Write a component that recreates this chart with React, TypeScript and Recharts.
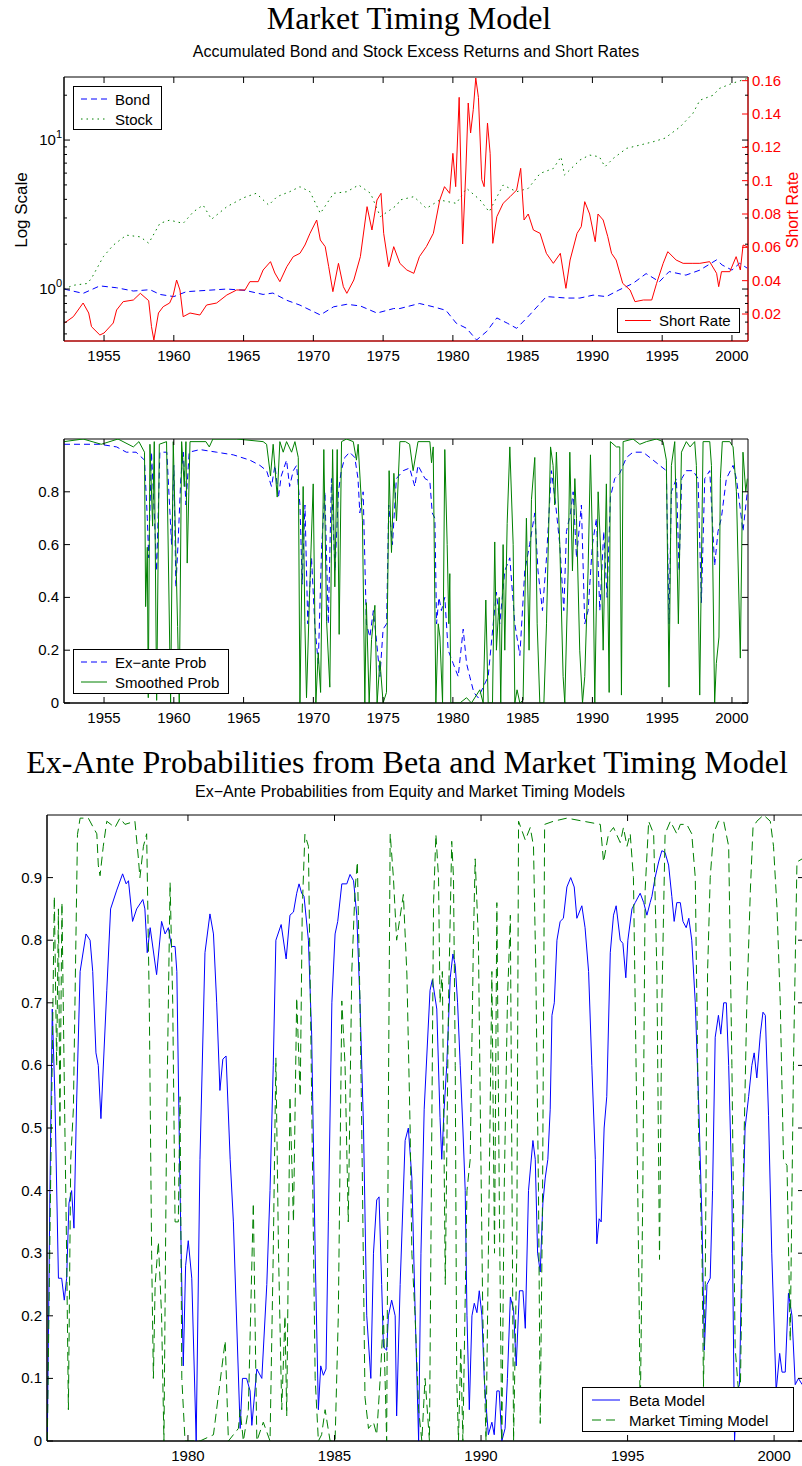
import React from 'react';
import { LineChart, Line, XAxis, YAxis, ReferenceArea, Legend } from 'recharts';

const SANS = '"Liberation Sans", Arial, Helvetica, sans-serif';
const SERIF = '"Liberation Serif", "Times New Roman", serif';
const BLUE = '#0000ff';
const RED = '#ff0000';
const GREEN = '#008000';

// ---------- ticks ----------
const yearTicksTop = [1955, 1960, 1965, 1970, 1975, 1980, 1985, 1990, 1995, 2000];
const logTicks = [0.5, 0.6, 0.7, 0.8, 0.9, 1, 2, 3, 4, 5, 6, 7, 8, 9, 10, 20];
const rateTicks = [0.02, 0.04, 0.06, 0.08, 0.1, 0.12, 0.14, 0.16];
const probTicks = [0, 0.2, 0.4, 0.6, 0.8];
const yearTicksBottom = [1980, 1985, 1990, 1995, 2000];
const probTicksFine = [0, 0.1, 0.2, 0.3, 0.4, 0.5, 0.6, 0.7, 0.8, 0.9];

// ---------- panel 1: accumulated returns (log) and short rate ----------
const bond: [number, number][] = [
  [1952.13, 1.0], [1953.5, 0.935], [1954.7, 1.05], [1955.9, 1.02], [1957.1, 0.97], [1958.3, 0.99],
  [1959.0, 0.92], [1960.0, 0.89], [1960.9, 0.96], [1962.35, 0.98], [1963.8, 1.0], [1965.1, 0.98],
  [1966.4, 0.92], [1967.1, 0.94], [1968.1, 0.84], [1969.04, 0.78], [1970.5, 0.67], [1971.45, 0.76],
  [1972.4, 0.79], [1973.37, 0.77], [1974.56, 0.69], [1975.76, 0.74], [1976.2, 0.74], [1977.6, 0.8],
  [1978.6, 0.76], [1979.5, 0.72], [1980.24, 0.59], [1980.98, 0.545], [1981.7, 0.455], [1982.43, 0.52],
  [1983.15, 0.64], [1983.9, 0.59], [1984.57, 0.545], [1985.5, 0.67], [1986.7, 0.89], [1988.15, 0.87],
  [1989.1, 0.87], [1990.05, 0.91], [1991.0, 0.89], [1991.9, 0.985], [1992.9, 1.09], [1993.85, 1.27],
  [1994.8, 1.12], [1995.5, 1.31], [1996.7, 1.24], [1997.7, 1.34], [1998.9, 1.57], [1999.3, 1.45],
  [2000.0, 1.34], [2000.55, 1.49], [2001.1, 1.38],
];

const stock: [number, number][] = [
  [1952.13, 1.0], [1952.8, 1.06], [1953.8, 1.09], [1954.1, 1.18], [1954.95, 1.65], [1955.66, 1.97],
  [1956.6, 2.3], [1957.6, 2.24], [1958.2, 2.03], [1959.0, 2.76], [1959.7, 2.9], [1960.67, 2.76],
  [1961.4, 3.3], [1962.1, 3.66], [1962.7, 2.94], [1963.8, 3.57], [1965.0, 4.1], [1965.9, 4.39],
  [1966.8, 3.66], [1967.4, 4.17], [1968.3, 4.5], [1969.04, 4.86], [1969.76, 4.5], [1970.5, 3.22],
  [1971.45, 4.39], [1972.4, 4.5], [1973.25, 4.99], [1974.1, 4.39], [1974.8, 3.06], [1976.0, 3.66],
  [1976.2, 3.96], [1977.2, 4.17], [1978.1, 3.48], [1979.06, 3.96], [1980.24, 3.76], [1980.98, 4.74],
  [1981.95, 3.96], [1982.6, 3.3], [1983.6, 4.99], [1984.57, 4.5], [1985.4, 4.74], [1986.25, 5.97],
  [1987.2, 6.45], [1987.75, 7.72], [1988.0, 5.82], [1989.1, 7.34], [1989.8, 7.93], [1990.5, 7.72],
  [1990.9, 6.62], [1991.5, 7.54], [1992.45, 8.8], [1993.4, 9.25], [1994.35, 9.74], [1995.2, 10.3],
  [1996.3, 12.3], [1997.2, 15.1], [1997.7, 18.5], [1998.65, 20.0], [1999.1, 22.2], [2000.0, 24.0],
  [2001.1, 25.9],
];

const shortRate: [number, number][] = [
  [1952.13, 0.0144], [1952.8, 0.0184], [1953.5, 0.0266], [1953.9, 0.0206], [1954.1, 0.0124],
  [1954.7, 0.0074], [1955.0, 0.0086], [1955.66, 0.0146], [1955.9, 0.0224], [1956.37, 0.0274],
  [1957.1, 0.0284], [1957.6, 0.0324], [1958.2, 0.028], [1958.4, 0.0124], [1958.57, 0.0044],
  [1958.9, 0.0206], [1959.24, 0.0244], [1959.7, 0.0266], [1959.96, 0.0314], [1960.2, 0.0404],
  [1960.44, 0.0344], [1960.67, 0.0184], [1961.16, 0.0206], [1961.87, 0.0194], [1962.35, 0.0254],
  [1963.07, 0.0266], [1963.8, 0.0314], [1964.5, 0.0344], [1965.1, 0.0344], [1965.45, 0.0394],
  [1966.05, 0.0394], [1966.4, 0.0464], [1966.93, 0.0514], [1967.24, 0.0446], [1967.6, 0.0394],
  [1968.1, 0.0484], [1968.56, 0.0544], [1969.04, 0.0564], [1969.4, 0.0614], [1969.76, 0.0684],
  [1970.24, 0.0764], [1970.5, 0.0644], [1970.85, 0.0604], [1971.1, 0.0484], [1971.4, 0.0334],
  [1971.8, 0.0504], [1972.15, 0.0364], [1972.4, 0.0324], [1972.9, 0.0404], [1973.37, 0.0544],
  [1973.85, 0.0844], [1974.2, 0.0704], [1974.56, 0.0884], [1974.85, 0.0924], [1975.04, 0.0684],
  [1975.4, 0.0484], [1975.76, 0.0604], [1976.2, 0.0504], [1976.7, 0.0464], [1977.2, 0.0444],
  [1977.6, 0.0544], [1978.1, 0.0604], [1978.6, 0.0684], [1979.06, 0.0884], [1979.4, 0.0964],
  [1979.77, 0.0924], [1980.0, 0.1164], [1980.2, 0.0964], [1980.45, 0.15], [1980.7, 0.062],
  [1980.93, 0.1064], [1981.1, 0.1466], [1981.27, 0.1286], [1981.46, 0.1426], [1981.64, 0.1616],
  [1981.83, 0.15], [1982.07, 0.1006], [1982.24, 0.0964], [1982.48, 0.1346], [1982.67, 0.1164],
  [1982.86, 0.0624], [1983.15, 0.0784], [1983.6, 0.0864], [1984.1, 0.0904], [1984.57, 0.0944],
  [1984.86, 0.1074], [1985.1, 0.0764], [1985.4, 0.08], [1985.77, 0.0704], [1986.25, 0.0684],
  [1986.7, 0.0564], [1987.2, 0.0504], [1987.7, 0.0564], [1988.1, 0.0354], [1988.4, 0.0524],
  [1988.9, 0.0684], [1989.2, 0.0724], [1989.45, 0.0874], [1989.8, 0.08], [1990.2, 0.0634],
  [1990.4, 0.08], [1990.77, 0.0764], [1991.1, 0.0664], [1991.37, 0.0564], [1991.7, 0.0524],
  [1992.17, 0.0384], [1992.7, 0.0344], [1993.05, 0.0274], [1993.65, 0.0284], [1994.25, 0.0284],
  [1994.6, 0.0384], [1995.07, 0.0504], [1995.4, 0.0574], [1996.0, 0.0524], [1996.5, 0.0504],
  [1997.2, 0.0504], [1997.7, 0.0504], [1998.4, 0.0514], [1998.9, 0.0444], [1999.05, 0.0364],
  [1999.25, 0.0454], [1999.85, 0.0454], [2000.3, 0.0544], [2000.6, 0.0464], [2000.8, 0.0614],
  [2001.1, 0.0604],
];

// ---------- panel 2: regime probabilities ----------
const exAnteProb: [number, number][] = [
  [1952.13, 0.98], [1954.7, 0.98], [1955.9, 0.97], [1956.6, 0.95], [1957.3, 0.95], [1957.9, 0.92],
  [1958.1, 0.7], [1958.2, 0.55], [1958.4, 0.95], [1958.6, 0.72], [1958.77, 0.5], [1959.0, 0.95],
  [1959.5, 0.95], [1959.84, 0.6], [1960.0, 0.9], [1960.15, 0.44], [1960.3, 0.6], [1960.5, 0.85],
  [1960.68, 0.95], [1960.87, 0.75], [1961.1, 0.95], [1961.87, 0.96], [1963.07, 0.95], [1964.26, 0.94],
  [1965.45, 0.92], [1966.17, 0.9], [1966.65, 0.88], [1967.0, 0.82], [1967.25, 0.9], [1967.5, 0.78],
  [1967.7, 0.86], [1968.08, 0.92], [1968.3, 0.82], [1968.56, 0.88], [1968.8, 0.9], [1969.04, 0.75],
  [1969.2, 0.45], [1969.4, 0.75], [1969.6, 0.3], [1969.87, 0.55], [1970.1, 0.3], [1970.35, 0.15],
  [1970.6, 0.6], [1970.83, 0.8], [1971.07, 0.3], [1971.3, 0.85], [1971.55, 0.5], [1971.8, 0.8],
  [1972.0, 0.88], [1972.26, 0.93], [1972.6, 0.95], [1972.97, 0.93], [1973.2, 0.85], [1973.33, 0.72],
  [1973.57, 0.8], [1973.8, 0.3], [1974.05, 0.25], [1974.3, 0.35], [1974.5, 0.25], [1974.77, 0.1],
  [1975.0, 0.28], [1975.25, 0.3], [1975.4, 0.75], [1975.67, 0.6], [1975.95, 0.85], [1976.44, 0.88],
  [1976.9, 0.89], [1977.27, 0.82], [1977.5, 0.9], [1978.0, 0.85], [1978.35, 0.84], [1978.52, 0.72],
  [1978.71, 0.7], [1978.83, 0.3], [1979.0, 0.4], [1979.18, 0.35], [1979.42, 0.4], [1979.66, 0.2],
  [1980.02, 0.15], [1980.38, 0.1], [1980.74, 0.28], [1980.98, 0.15], [1981.21, 0.1], [1981.5, 0.04],
  [1981.81, 0.02], [1982.17, 0.06], [1982.53, 0.1], [1982.89, 0.3], [1983.12, 0.42], [1983.36, 0.3],
  [1983.72, 0.5], [1984.08, 0.55], [1984.44, 0.3], [1984.8, 0.18], [1985.15, 0.5], [1985.5, 0.6],
  [1985.87, 0.72], [1986.1, 0.5], [1986.42, 0.35], [1986.71, 0.55], [1987.06, 0.88], [1987.37, 0.75],
  [1987.66, 0.6], [1987.95, 0.35], [1988.14, 0.65], [1988.43, 0.72], [1988.62, 0.8], [1988.86, 0.55],
  [1989.21, 0.75], [1989.45, 0.3], [1989.69, 0.35], [1990.0, 0.6], [1990.29, 0.7], [1990.53, 0.35],
  [1990.81, 0.65], [1991.05, 0.4], [1991.29, 0.78], [1991.6, 0.85], [1991.96, 0.87], [1992.44, 0.93],
  [1992.91, 0.95], [1993.63, 0.95], [1994.35, 0.92], [1994.82, 0.9], [1995.3, 0.88], [1995.49, 0.3],
  [1995.66, 0.8], [1996.02, 0.85], [1996.21, 0.5], [1996.4, 0.85], [1996.73, 0.88], [1997.21, 0.88],
  [1997.57, 0.85], [1997.81, 0.38], [1998.05, 0.85], [1998.41, 0.88], [1998.76, 0.52], [1999.0, 0.65],
  [1999.24, 0.7], [1999.6, 0.85], [2000.08, 0.9], [2000.32, 0.85], [2000.56, 0.75], [2000.79, 0.65],
  [2001.1, 0.8],
];

const smoothedProb: [number, number][] = [
  [1952.13, 0.99], [1953.5, 1.0], [1954.8, 0.98], [1956.0, 1.0], [1957.1, 0.97], [1957.5, 0.99],
  [1957.9, 0.95], [1957.98, 0.365], [1958.1, 0.59], [1958.17, 0.02], [1958.29, 0.98], [1958.48, 0.67],
  [1958.6, 0.99], [1958.77, 0.01], [1958.96, 0.98], [1959.48, 0.99], [1959.77, 0.0], [1959.96, 0.99],
  [1960.27, 0.29], [1960.39, 0.0], [1960.56, 0.99], [1960.75, 0.82], [1960.87, 0.99], [1960.96, 0.53],
  [1961.16, 0.99], [1962.3, 0.99], [1962.54, 0.97], [1962.8, 1.0], [1964.5, 1.0], [1966.4, 0.99],
  [1966.65, 0.98], [1966.93, 0.86], [1967.12, 0.98], [1967.41, 0.78], [1967.6, 0.99], [1967.84, 0.95],
  [1968.08, 0.99], [1968.44, 0.95], [1968.68, 0.99], [1968.92, 0.93], [1969.04, 0.0], [1969.27, 0.82],
  [1969.39, 0.31], [1969.51, 0.02], [1969.75, 0.45], [1969.99, 0.83], [1970.18, 0.0], [1970.35, 0.19],
  [1970.52, 0.04], [1970.75, 0.96], [1970.95, 0.31], [1971.18, 0.06], [1971.38, 0.96], [1971.54, 0.44],
  [1971.71, 0.96], [1971.85, 0.26], [1972.02, 0.99], [1972.38, 1.0], [1972.86, 0.99], [1973.09, 0.92],
  [1973.21, 0.98], [1973.52, 0.69], [1973.69, 0.0], [1973.8, 0.38], [1974.0, 0.0], [1974.17, 0.24],
  [1974.41, 0.37], [1974.57, 0.0], [1974.77, 0.16], [1975.0, 0.0], [1975.24, 0.04], [1975.43, 0.88],
  [1975.6, 0.57], [1975.77, 0.87], [1975.96, 0.69], [1976.2, 0.99], [1976.6, 0.99], [1976.9, 0.98],
  [1977.15, 0.88], [1977.5, 0.99], [1978.35, 0.99], [1978.47, 0.91], [1978.59, 0.97], [1978.78, 0.0],
  [1978.95, 0.3], [1979.07, 0.25], [1979.26, 0.0], [1979.42, 0.96], [1979.59, 0.6], [1979.71, 0.3],
  [1979.78, 0.49], [1979.85, 0.0], [1980.5, 0.0], [1980.98, 0.02], [1981.33, 0.0], [1981.93, 0.05],
  [1982.17, 0.0], [1982.36, 0.39], [1982.53, 0.0], [1982.84, 0.0], [1983.0, 0.61], [1983.12, 0.2],
  [1983.32, 0.4], [1983.43, 0.0], [1983.6, 0.6], [1983.72, 0.2], [1983.89, 0.68], [1984.08, 0.97],
  [1984.32, 0.6], [1984.44, 0.0], [1984.6, 0.05], [1984.8, 0.0], [1985.03, 0.01], [1985.27, 0.7],
  [1985.46, 0.2], [1985.63, 0.77], [1985.87, 0.93], [1986.04, 0.3], [1986.23, 0.0], [1986.52, 0.0],
  [1986.71, 0.3], [1987.0, 0.97], [1987.18, 0.9], [1987.3, 0.75], [1987.42, 0.95], [1987.66, 0.6],
  [1987.9, 0.1], [1988.02, 0.0], [1988.26, 0.5], [1988.38, 0.95], [1988.57, 0.5], [1988.74, 0.85],
  [1988.86, 0.7], [1989.09, 0.2], [1989.29, 0.0], [1989.45, 0.1], [1989.69, 0.5], [1989.86, 0.94],
  [1990.05, 0.5], [1990.17, 0.0], [1990.41, 0.8], [1990.65, 0.5], [1990.77, 0.2], [1991.0, 0.83],
  [1991.2, 0.04], [1991.29, 0.99], [1991.72, 0.97], [1991.96, 0.97], [1992.08, 0.03], [1992.2, 0.99],
  [1992.91, 1.0], [1993.4, 0.98], [1993.87, 0.99], [1994.59, 1.0], [1995.06, 0.99], [1995.3, 0.92],
  [1995.49, 0.06], [1995.66, 0.9], [1995.9, 0.99], [1996.16, 0.3], [1996.38, 0.95], [1996.73, 0.99],
  [1997.0, 0.97], [1997.33, 0.99], [1997.45, 0.9], [1997.69, 0.03], [1997.93, 0.99], [1998.41, 0.99],
  [1998.53, 0.9], [1998.76, 0.0], [1998.88, 0.15], [1999.07, 0.25], [1999.17, 0.85], [1999.31, 0.99],
  [1999.84, 0.99], [2000.08, 0.97], [2000.32, 0.8], [2000.6, 0.17], [2000.79, 0.95], [2000.99, 0.8],
  [2001.1, 0.85],
];

// ---------- panel 3: beta model vs market timing model ----------
const betaModel: [number, number][] = [
  [1975.2, 0.0], [1975.29, 0.4], [1975.37, 0.69], [1975.46, 0.55], [1975.58, 0.26], [1975.69, 0.26],
  [1975.78, 0.225], [1975.86, 0.26], [1975.94, 0.38], [1976.03, 0.4], [1976.11, 0.34], [1976.2, 0.54],
  [1976.32, 0.75], [1976.52, 0.81], [1976.66, 0.8], [1976.75, 0.75], [1976.86, 0.62], [1976.94, 0.6],
  [1977.03, 0.515], [1977.23, 0.72], [1977.36, 0.85], [1977.57, 0.88], [1977.77, 0.906], [1977.89, 0.89],
  [1977.97, 0.895], [1978.11, 0.83], [1978.25, 0.85], [1978.46, 0.865], [1978.53, 0.85], [1978.61, 0.78],
  [1978.71, 0.82], [1978.93, 0.745], [1979.1, 0.83], [1979.22, 0.81], [1979.33, 0.82], [1979.44, 0.79],
  [1979.56, 0.79], [1979.62, 0.75], [1979.73, 0.4], [1979.84, 0.12], [1979.92, 0.28], [1980.01, 0.32],
  [1980.13, 0.26], [1980.28, 0.0], [1980.41, 0.45], [1980.58, 0.78], [1980.75, 0.842], [1980.87, 0.81],
  [1980.98, 0.7], [1981.09, 0.56], [1981.19, 0.61], [1981.3, 0.615], [1981.44, 0.45], [1981.55, 0.35],
  [1981.78, 0.02], [1981.86, 0.1], [1982.0, 0.1], [1982.12, 0.08], [1982.18, 0.025], [1982.35, 0.115],
  [1982.52, 0.1], [1982.69, 0.25], [1982.8, 0.4], [1982.91, 0.6], [1983.0, 0.8], [1983.18, 0.825],
  [1983.35, 0.77], [1983.48, 0.84], [1983.6, 0.845], [1983.71, 0.875], [1983.79, 0.89], [1983.88, 0.875],
  [1983.96, 0.87], [1984.11, 0.8], [1984.22, 0.65], [1984.34, 0.3], [1984.45, 0.05], [1984.53, 0.12],
  [1984.62, 0.105], [1984.71, 0.115], [1984.79, 0.35], [1984.91, 0.7], [1985.02, 0.81], [1985.11, 0.83],
  [1985.25, 0.89], [1985.42, 0.89], [1985.53, 0.905], [1985.65, 0.895], [1985.76, 0.84], [1985.87, 0.7],
  [1985.99, 0.5], [1986.1, 0.2], [1986.24, 0.1], [1986.33, 0.3], [1986.44, 0.385], [1986.52, 0.39],
  [1986.61, 0.25], [1986.67, 0.15], [1986.78, 0.145], [1986.84, 0.2], [1986.95, 0.225], [1987.07, 0.2],
  [1987.12, 0.04], [1987.24, 0.25], [1987.41, 0.48], [1987.52, 0.5], [1987.64, 0.42], [1987.75, 0.21],
  [1987.87, 0.0], [1987.95, 0.3], [1988.06, 0.53], [1988.26, 0.72], [1988.34, 0.737], [1988.49, 0.69],
  [1988.6, 0.517], [1988.66, 0.45], [1988.74, 0.53], [1988.83, 0.6], [1988.95, 0.74], [1989.04, 0.778],
  [1989.12, 0.76], [1989.2, 0.7], [1989.29, 0.6], [1989.38, 0.5], [1989.46, 0.4], [1989.52, 0.2],
  [1989.6, 0.05], [1989.69, 0.2], [1989.77, 0.22], [1989.86, 0.205], [1989.94, 0.24], [1990.03, 0.2],
  [1990.11, 0.1], [1990.2, 0.04], [1990.25, 0.01], [1990.37, 0.03], [1990.45, 0.01], [1990.54, 0.08],
  [1990.62, 0.08], [1990.71, 0.0], [1990.82, 0.02], [1990.9, 0.1], [1991.0, 0.23], [1991.11, 0.21],
  [1991.2, 0.12], [1991.31, 0.24], [1991.43, 0.24], [1991.51, 0.18], [1991.62, 0.4], [1991.77, 0.48],
  [1991.85, 0.45], [1991.93, 0.3], [1992.02, 0.27], [1992.11, 0.38], [1992.19, 0.42], [1992.28, 0.45],
  [1992.36, 0.53], [1992.42, 0.68], [1992.5, 0.7], [1992.59, 0.8], [1992.7, 0.83], [1992.81, 0.835],
  [1992.93, 0.885], [1993.06, 0.9], [1993.18, 0.885], [1993.27, 0.835], [1993.44, 0.855], [1993.55, 0.82],
  [1993.67, 0.75], [1993.78, 0.6], [1993.9, 0.45], [1993.95, 0.315], [1994.03, 0.355], [1994.1, 0.35],
  [1994.2, 0.5], [1994.29, 0.55], [1994.41, 0.78], [1994.52, 0.84], [1994.61, 0.855], [1994.75, 0.8],
  [1994.84, 0.795], [1994.94, 0.74], [1995.01, 0.8], [1995.15, 0.85], [1995.26, 0.86], [1995.43, 0.875],
  [1995.55, 0.86], [1995.66, 0.84], [1995.77, 0.86], [1995.83, 0.87], [1995.94, 0.9], [1996.06, 0.925],
  [1996.17, 0.943], [1996.28, 0.94], [1996.4, 0.92], [1996.51, 0.87], [1996.59, 0.83], [1996.68, 0.86],
  [1996.8, 0.86], [1996.89, 0.83], [1997.0, 0.82], [1997.09, 0.835], [1997.19, 0.8], [1997.31, 0.7],
  [1997.42, 0.55], [1997.54, 0.35], [1997.62, 0.145], [1997.71, 0.25], [1997.82, 0.26], [1997.9, 0.4],
  [1997.99, 0.645], [1998.1, 0.68], [1998.18, 0.65], [1998.28, 0.7], [1998.37, 0.7], [1998.45, 0.6],
  [1998.56, 0.4], [1998.65, 0.0], [1998.73, 0.08], [1998.82, 0.09], [1998.9, 0.3], [1999.01, 0.5],
  [1999.13, 0.55], [1999.24, 0.6], [1999.32, 0.62], [1999.41, 0.58], [1999.53, 0.65], [1999.62, 0.685],
  [1999.7, 0.68], [1999.81, 0.52], [1999.92, 0.3], [2000.07, 0.08], [2000.19, 0.14], [2000.27, 0.11],
  [2000.38, 0.11], [2000.49, 0.236], [2000.61, 0.2], [2000.72, 0.09], [2000.83, 0.1], [2000.96, 0.09],
];

const marketTiming: [number, number][] = [
  [1975.2, 0.0], [1975.44, 0.87], [1975.52, 0.6], [1975.58, 0.85], [1975.63, 0.5], [1975.7, 0.86],
  [1975.8, 0.5], [1975.86, 0.3], [1975.92, 0.05], [1976.0, 0.45], [1976.09, 0.53], [1976.23, 0.969],
  [1976.32, 0.995], [1976.6, 0.995], [1976.77, 0.98], [1976.89, 0.97], [1976.94, 0.92], [1977.0, 0.903],
  [1977.11, 0.95], [1977.23, 0.99], [1977.51, 0.98], [1977.68, 0.995], [1977.85, 0.985], [1978.19, 0.99],
  [1978.31, 0.93], [1978.36, 0.9], [1978.48, 0.95], [1978.59, 0.97], [1978.68, 0.7], [1978.76, 0.3],
  [1978.82, 0.1], [1978.88, 0.25], [1978.99, 0.318], [1979.1, 0.2], [1979.18, 0.0], [1979.27, 0.5],
  [1979.39, 0.892], [1979.48, 0.7], [1979.56, 0.35], [1979.67, 0.35], [1979.73, 0.55], [1979.79, 0.1],
  [1979.9, 0.0], [1980.41, 0.0], [1980.87, 0.01], [1981.27, 0.16], [1981.38, 0.0], [1981.72, 0.02],
  [1981.78, 0.05], [1981.89, 0.0], [1982.06, 0.05], [1982.23, 0.38], [1982.35, 0.0], [1982.57, 0.03],
  [1982.8, 0.0], [1982.91, 0.3], [1983.0, 0.612], [1983.09, 0.3], [1983.2, 0.05], [1983.31, 0.2],
  [1983.37, 0.04], [1983.48, 0.55], [1983.6, 0.35], [1983.71, 0.708], [1983.83, 0.55], [1983.9, 0.85],
  [1983.99, 0.969], [1984.11, 0.95], [1984.22, 0.55], [1984.34, 0.1], [1984.45, 0.0], [1984.56, 0.01],
  [1984.68, 0.05], [1984.85, 0.0], [1985.02, 0.0], [1985.13, 0.2], [1985.25, 0.703], [1985.36, 0.6],
  [1985.47, 0.35], [1985.59, 0.75], [1985.7, 0.88], [1985.78, 0.925], [1985.87, 0.7], [1985.93, 0.5],
  [1986.04, 0.07], [1986.16, 0.02], [1986.33, 0.03], [1986.44, 0.01], [1986.56, 0.1], [1986.67, 0.2],
  [1986.78, 0.0], [1986.84, 0.55], [1986.9, 0.97], [1987.01, 0.9], [1987.12, 0.8], [1987.35, 0.873],
  [1987.47, 0.746], [1987.58, 0.5], [1987.64, 0.3], [1987.75, 0.2], [1987.87, 0.05], [1987.98, 0.0],
  [1988.09, 0.1], [1988.24, 0.0], [1988.32, 0.5], [1988.38, 0.86], [1988.46, 0.969], [1988.55, 0.9],
  [1988.6, 0.7], [1988.68, 0.75], [1988.78, 0.25], [1988.89, 0.7], [1989.0, 0.958], [1989.06, 0.9],
  [1989.12, 0.6], [1989.17, 0.1], [1989.23, 0.0], [1989.31, 0.15], [1989.38, 0.0], [1989.52, 0.4],
  [1989.63, 0.45], [1989.74, 0.8], [1989.8, 0.93], [1989.91, 0.8], [1989.97, 0.55], [1990.06, 0.2],
  [1990.17, 0.0], [1990.25, 0.3], [1990.37, 0.75], [1990.46, 0.3], [1990.54, 0.86], [1990.63, 0.35],
  [1990.71, 0.0], [1990.79, 0.4], [1990.9, 0.7], [1991.0, 0.84], [1991.11, 0.0], [1991.22, 0.3],
  [1991.28, 0.99], [1991.51, 0.96], [1991.68, 0.98], [1991.79, 0.95], [1991.87, 0.75], [1991.96, 0.4],
  [1992.02, 0.028], [1992.1, 0.4], [1992.17, 0.985], [1992.47, 0.99], [1992.93, 0.995], [1993.5, 0.99],
  [1994.07, 0.985], [1994.18, 0.925], [1994.35, 0.97], [1994.52, 0.98], [1994.75, 0.956], [1994.86, 0.98],
  [1994.98, 0.95], [1995.09, 0.97], [1995.2, 0.9], [1995.32, 0.5], [1995.4, 0.2], [1995.43, 0.03],
  [1995.52, 0.4], [1995.6, 0.88], [1995.72, 0.99], [1995.89, 0.97], [1996.0, 0.75], [1996.09, 0.29],
  [1996.17, 0.7], [1996.28, 0.97], [1996.46, 0.99], [1996.68, 0.97], [1996.8, 0.985], [1997.02, 0.985],
  [1997.19, 0.97], [1997.31, 0.9], [1997.42, 0.5], [1997.54, 0.3], [1997.59, 0.087], [1997.65, 0.25],
  [1997.73, 0.75], [1997.82, 0.9], [1997.93, 0.97], [1998.1, 0.99], [1998.28, 0.99], [1998.45, 0.95],
  [1998.56, 0.6], [1998.67, 0.15], [1998.75, 0.1], [1998.84, 0.05], [1998.96, 0.45], [1999.07, 0.7],
  [1999.19, 0.88], [1999.28, 0.98], [1999.41, 0.99], [1999.64, 1.0], [1999.87, 0.99], [1999.98, 0.95],
  [2000.1, 0.85], [2000.21, 0.7], [2000.32, 0.45], [2000.44, 0.44], [2000.55, 0.16], [2000.66, 0.6],
  [2000.78, 0.925], [2000.96, 0.93],
];

const rows = (s: [number, number][]) => s.map(([x, v]) => ({ x, v }));

// ---------- axis ticks (MATLAB style: inward marks on both sides of the box) ----------
const label = { fontFamily: SANS, fontSize: 15, fill: '#000' };

function BottomTick(props: any) {
  const { x, y, payload, plotH } = props;
  return (
    <g>
      <line x1={x} x2={x} y1={y} y2={y - 6} stroke="#000" />
      <line x1={x} x2={x} y1={y - plotH} y2={y - plotH + 6} stroke="#000" />
      <text x={x} y={y + 20} textAnchor="middle" {...label}>{payload.value}</text>
    </g>
  );
}

function LeftTick(props: any) {
  const { x, y, payload, plotW } = props;
  return (
    <g>
      <line x1={x} x2={x + 6} y1={y} y2={y} stroke="#000" />
      <line x1={x + plotW} x2={x + plotW - 6} y1={y} y2={y} stroke="#000" />
      <text x={x - 5} y={y + 5} textAnchor="end" {...label}>{payload.value}</text>
    </g>
  );
}

function LogTick(props: any) {
  const { x, y, payload, plotW } = props;
  const v = payload.value;
  const major = v === 1 || v === 10;
  const len = major ? 6 : 3;
  return (
    <g>
      <line x1={x} x2={x + len} y1={y} y2={y} stroke="#000" />
      <line x1={x + plotW} x2={x + plotW - len} y1={y} y2={y} stroke="#000" />
      {major && (
        <text x={x - 2} y={y + 5} textAnchor="end" {...label}>
          10<tspan dy={-7} fontSize={11}>{v === 1 ? '0' : '1'}</tspan>
        </text>
      )}
    </g>
  );
}

function RateTick(props: any) {
  const { x, y, payload } = props;
  return (
    <g>
      <line x1={x} x2={x - 6} y1={y} y2={y} stroke={RED} />
      <text x={x + 4} y={y + 5} textAnchor="start" {...label} fill={RED}>{payload.value}</text>
    </g>
  );
}

// ---------- legend boxes ----------
type Item = { name: string; color: string; dash?: string };
function LegendBox({ w, h, items, x1, x2, tx }: { w: number; h: number; items: Item[]; x1: number; x2: number; tx: number }) {
  return (
    <svg width={w} height={h} style={{ display: 'block' }}>
      <rect x={0.5} y={0.5} width={w - 1} height={h - 1} fill="#fff" stroke="#000" />
      {items.map((it, i) => {
        const ly = items.length === 1 ? h / 2 : 13 + i * 20;
        return (
          <g key={it.name}>
            <line x1={x1} x2={x2} y1={ly} y2={ly} stroke={it.color} strokeDasharray={it.dash} />
            <text x={tx} y={ly + 5.5} {...label}>{it.name}</text>
          </g>
        );
      })}
    </svg>
  );
}

const legendPos = (left: number, top: number, width: number, height: number) => ({
  left, top, width, height, margin: 0, padding: 0, lineHeight: 0,
});

// ---------- panels ----------
const X1: [number, number] = [1952.13, 2001.15];
const X3: [number, number] = [1975.19, 2001.02];

function MarketTimingPanel() {
  return (
    <LineChart width={802} height={400} margin={{ top: 77, right: 0, bottom: 29, left: 0 }}>
      <XAxis type="number" dataKey="x" domain={X1} allowDataOverflow ticks={yearTicksTop} interval={0}
        height={30} tickSize={0} tickMargin={0} tickLine={false} axisLine={{ stroke: RED }}
        tick={(p: any) => <BottomTick {...p} plotH={264} />} />
      <YAxis yAxisId="log" scale="log" domain={[0.448, 26.5]} allowDataOverflow ticks={logTicks} interval={0}
        width={64} tickSize={0} tickMargin={0} tickLine={false} axisLine={{ stroke: '#000' }}
        tick={(p: any) => <LogTick {...p} plotW={684} />} />
      <YAxis yAxisId="rate" orientation="right" domain={[0.0038, 0.1622]} allowDataOverflow ticks={rateTicks}
        interval={0} width={54} tickSize={0} tickMargin={0} tickLine={false} axisLine={{ stroke: RED }}
        tick={(p: any) => <RateTick {...p} />} />
      <ReferenceArea yAxisId="log" x1={X1[0]} x2={X1[1]} fill="none" fillOpacity={0} stroke="#000" ifOverflow="visible" />
      <Line yAxisId="log" data={rows(stock)} dataKey="v" stroke={GREEN} strokeDasharray="1.5 4" dot={false} isAnimationActive={false} />
      <Line yAxisId="log" data={rows(bond)} dataKey="v" stroke={BLUE} strokeDasharray="6 4" dot={false} isAnimationActive={false} />
      <Line yAxisId="rate" data={rows(shortRate)} dataKey="v" stroke={RED} dot={false} isAnimationActive={false} />
      <Legend layout="vertical" align="center" verticalAlign="middle" wrapperStyle={legendPos(73, 86, 89, 44)}
        content={() => (
          <LegendBox w={89} h={44} x1={8} x2={34} tx={42}
            items={[{ name: 'Bond', color: BLUE, dash: '6 4' }, { name: 'Stock', color: GREEN, dash: '1.5 4' }]} />
        )} />
    </LineChart>
  );
}

function ShortRateLegendPanel() {
  // second legend of the top panel (the short-rate axes)
  return (
    <div style={{ position: 'absolute', left: 617, top: 308 }}>
      <LegendBox w={123} h={25} x1={8} x2={34} tx={42} items={[{ name: 'Short Rate', color: RED }]} />
    </div>
  );
}

function ProbabilityPanel() {
  return (
    <LineChart width={802} height={340} margin={{ top: 39, right: 54, bottom: 7, left: 0 }}>
      <XAxis type="number" dataKey="x" domain={X1} allowDataOverflow ticks={yearTicksTop} interval={0}
        height={30} tickSize={0} tickMargin={0} tickLine={false} axisLine={{ stroke: '#000' }}
        tick={(p: any) => <BottomTick {...p} plotH={264} />} />
      <YAxis domain={[0, 1]} allowDataOverflow ticks={probTicks} interval={0} width={64}
        tickSize={0} tickMargin={0} tickLine={false} axisLine={{ stroke: '#000' }}
        tick={(p: any) => <LeftTick {...p} plotW={684} />} />
      <ReferenceArea x1={X1[0]} x2={X1[1]} fill="none" fillOpacity={0} stroke="#000" ifOverflow="visible" />
      <Line data={rows(exAnteProb)} dataKey="v" stroke={BLUE} strokeDasharray="6 4" dot={false} isAnimationActive={false} />
      <Line data={rows(smoothedProb)} dataKey="v" stroke={GREEN} dot={false} isAnimationActive={false} />
      <Legend layout="vertical" align="center" verticalAlign="middle" wrapperStyle={legendPos(73, 249, 156, 45)}
        content={() => (
          <LegendBox w={156} h={45} x1={8} x2={34} tx={42}
            items={[{ name: 'Ex\u2212ante Prob', color: BLUE, dash: '6 4' }, { name: 'Smoothed Prob', color: GREEN }]} />
        )} />
    </LineChart>
  );
}

function ComparisonPanel() {
  return (
    <LineChart width={806} height={666} margin={{ top: 15, right: 2, bottom: 5, left: 0 }}>
      <XAxis type="number" dataKey="x" domain={X3} allowDataOverflow ticks={yearTicksBottom} interval={0}
        height={20} tickSize={0} tickMargin={0} tickLine={false} axisLine={{ stroke: '#000' }}
        tick={(p: any) => <BottomTick {...p} plotH={626} />} />
      <YAxis domain={[0, 1]} allowDataOverflow ticks={probTicksFine} interval={0} width={47}
        tickSize={0} tickMargin={0} tickLine={false} axisLine={{ stroke: '#000' }}
        tick={(p: any) => <LeftTick {...p} plotW={757} />} />
      <ReferenceArea x1={X3[0]} x2={X3[1]} fill="none" fillOpacity={0} stroke="#000" ifOverflow="visible" />
      <Line data={rows(betaModel)} dataKey="v" stroke={BLUE} dot={false} isAnimationActive={false} />
      <Line data={rows(marketTiming)} dataKey="v" stroke={GREEN} strokeDasharray="9 5" dot={false} isAnimationActive={false} />
      <Legend layout="vertical" align="center" verticalAlign="middle" wrapperStyle={legendPos(582, 587, 212, 45)}
        content={() => (
          <LegendBox w={212} h={45} x1={10} x2={38} tx={47}
            items={[{ name: 'Beta Model', color: BLUE }, { name: 'Market Timing Model', color: GREEN, dash: '9 5' }]} />
        )} />
    </LineChart>
  );
}

export default function App() {
  return (
    <div style={{ position: 'absolute', left: 0, top: 0, width: 802, height: 1466, overflow: 'hidden', background: '#fff' }}>
      <div style={{ position: 'absolute', left: 0, top: 0 }}>
        <MarketTimingPanel />
        <ShortRateLegendPanel />
      </div>
      <div style={{ position: 'absolute', left: 0, top: 400 }}>
        <ProbabilityPanel />
      </div>
      <div style={{ position: 'absolute', left: 0, top: 800 }}>
        <ComparisonPanel />
      </div>
      <svg width={802} height={1466} style={{ position: 'absolute', left: 0, top: 0, pointerEvents: 'none' }}>
        <text x={409} y={29} textAnchor="middle" fontFamily={SERIF} fontSize={32}>Market Timing Model</text>
        <text x={416} y={57} textAnchor="middle" fontFamily={SANS} fontSize={16}>
          Accumulated Bond and Stock Excess Returns and Short Rates
        </text>
        <text transform="translate(21,210) rotate(-90)" textAnchor="middle" dominantBaseline="central"
          fontFamily={SANS} fontSize={17}>Log Scale</text>
        <text transform="translate(792,210) rotate(-90)" textAnchor="middle" dominantBaseline="central"
          fontFamily={SANS} fontSize={16} fill={RED}>Short Rate</text>
        <text x={407} y={773} textAnchor="middle" fontFamily={SERIF} fontSize={32}>
          Ex-Ante Probabilities from Beta and Market Timing Model
        </text>
        <text x={410} y={797} textAnchor="middle" fontFamily={SANS} fontSize={16}>
          Ex{'\u2212'}Ante Probabilities from Equity and Market Timing Models
        </text>
      </svg>
    </div>
  );
}
